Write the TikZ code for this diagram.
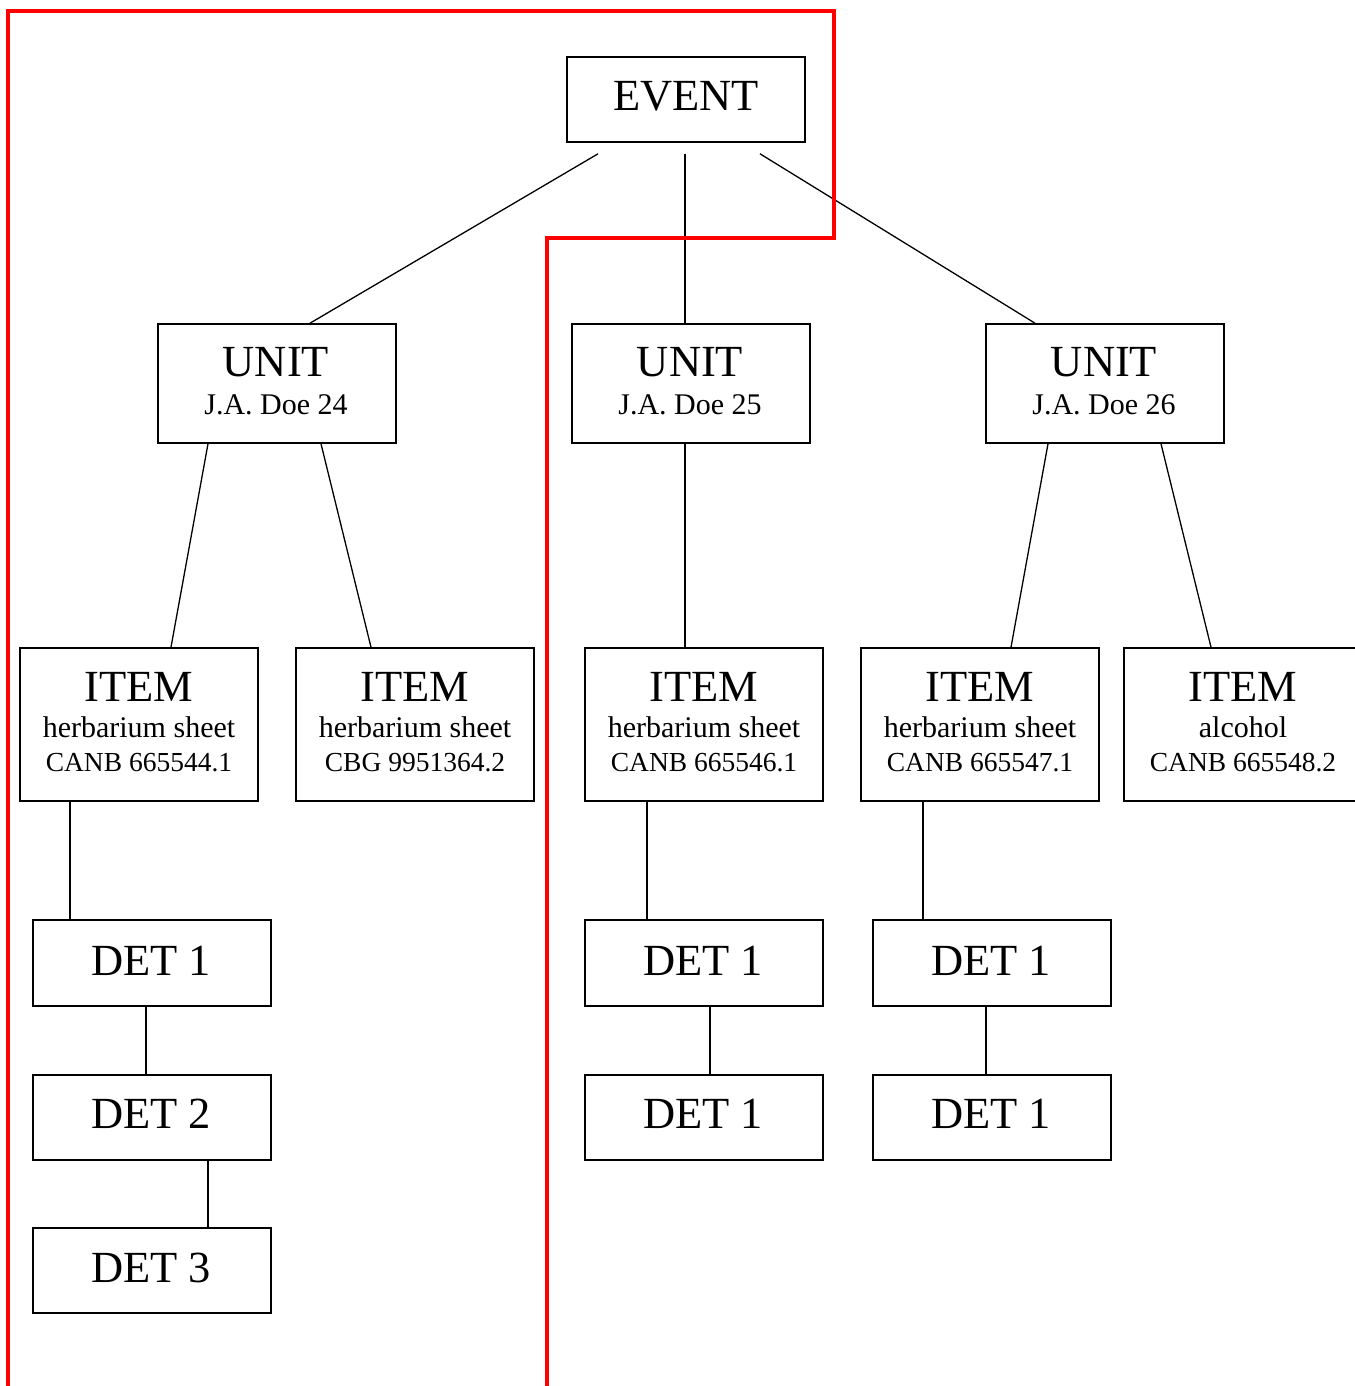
\documentclass[tikz,border=0pt]{standalone}
\usepackage{fontspec}
\setmainfont{Liberation Serif}
\begin{document}
\begin{tikzpicture}[x=1pt,y=-1pt,
  box/.style={draw,line width=1.6pt,inner sep=0pt,minimum width=238pt},
  conn/.style={line width=1.3pt},
  redline/.style={draw=red,line width=4pt,line join=miter},
  big/.style={font=\fontsize{44.5}{44.5}\selectfont,anchor=base,inner sep=0pt},
  small/.style={font=\fontsize{30}{30}\selectfont,anchor=base,inner sep=0pt},
  code/.style={font=\fontsize{27.5}{27.5}\selectfont,anchor=base,inner sep=0pt}]
\useasboundingbox (0,0) rectangle (1354,1386);
% boxes
\node[box,minimum height=85pt] (event) at (686,99.5) {};
\node[box,minimum height=119pt] (u24) at (277,383.5) {};
\node[box,minimum height=119pt] (u25) at (691,383.5) {};
\node[box,minimum height=119pt] (u26) at (1105,383.5) {};
\node[box,minimum height=153pt] (i1) at (139,724.5) {};
\node[box,minimum height=153pt] (i2) at (415,724.5) {};
\node[box,minimum height=153pt] (i3) at (704,724.5) {};
\node[box,minimum height=153pt] (i4) at (980,724.5) {};
\node[box,minimum height=153pt] (i5) at (1243,724.5) {};
\node[box,minimum height=86pt] (d11) at (152,963) {};
\node[box,minimum height=85pt] (d12) at (152,1117.5) {};
\node[box,minimum height=85pt] (d13) at (152,1270.5) {};
\node[box,minimum height=86pt] (d31) at (704,963) {};
\node[box,minimum height=85pt] (d32) at (704,1117.5) {};
\node[box,minimum height=86pt] (d41) at (992,963) {};
\node[box,minimum height=85pt] (d42) at (992,1117.5) {};
% texts
\node[big] (event-t) at (686,111) {EVENT};
\node[big] (u24-t) at (276,376) {UNIT};
\node[small] (u24-s) at (276,414) {J.A. Doe 24};
\node[big] (u25-t) at (690,376) {UNIT};
\node[small] (u25-s) at (690,414) {J.A. Doe 25};
\node[big] (u26-t) at (1104,376) {UNIT};
\node[small] (u26-s) at (1104,414) {J.A. Doe 26};
\node[big] (i1-t) at (139,701) {ITEM};
\node[small] (i1-a) at (139,737) {herbarium sheet};
\node[code] (i1-b) at (139,771) {CANB 665544.1};
\node[big] (i2-t) at (415,701) {ITEM};
\node[small] (i2-a) at (415,737) {herbarium sheet};
\node[code] (i2-b) at (415,771) {CBG 9951364.2};
\node[big] (i3-t) at (704,701) {ITEM};
\node[small] (i3-a) at (704,737) {herbarium sheet};
\node[code] (i3-b) at (704,771) {CANB 665546.1};
\node[big] (i4-t) at (980,701) {ITEM};
\node[small] (i4-a) at (980,737) {herbarium sheet};
\node[code] (i4-b) at (980,771) {CANB 665547.1};
\node[big] (i5-t) at (1243,701) {ITEM};
\node[small] (i5-a) at (1243,737) {alcohol};
\node[code] (i5-b) at (1243,771) {CANB 665548.2};
\node[big] (d11-t) at (151,975) {DET 1};
\node[big] (d12-t) at (151,1128) {DET 2};
\node[big] (d13-t) at (151,1282) {DET 3};
\node[big] (d31-t) at (703,975) {DET 1};
\node[big] (d32-t) at (703,1128) {DET 1};
\node[big] (d41-t) at (991,975) {DET 1};
\node[big] (d42-t) at (991,1128) {DET 1};
% connectors
\draw[conn] ([xshift=-88pt,yshift=-11pt]event.south) -- ([xshift=33pt]u24.north);
\draw[conn] ([xshift=-1pt,yshift=-11pt]event.south) -- ([xshift=-6pt]u25.north);
\draw[conn] ([xshift=74pt,yshift=-11pt]event.south) -- ([xshift=-70pt]u26.north);
\draw[conn] ([xshift=-69pt]u24.south) -- ([xshift=32pt]i1.north);
\draw[conn] ([xshift=44pt]u24.south) -- ([xshift=-44pt]i2.north);
\draw[conn] ([xshift=-6pt]u25.south) -- ([xshift=-19pt]i3.north);
\draw[conn] ([xshift=-57pt]u26.south) -- ([xshift=31pt]i4.north);
\draw[conn] ([xshift=56pt]u26.south) -- ([xshift=-32pt]i5.north);
\draw[conn] ([xshift=-69pt]i1.south) -- ([xshift=-82pt]d11.north);
\draw[conn] ([xshift=-6pt]d11.south) -- ([xshift=-6pt]d12.north);
\draw[conn] ([xshift=56pt]d12.south) -- ([xshift=56pt]d13.north);
\draw[conn] ([xshift=-57pt]i3.south) -- ([xshift=-57pt]d31.north);
\draw[conn] ([xshift=6pt]d31.south) -- ([xshift=6pt]d32.north);
\draw[conn] ([xshift=-57pt]i4.south) -- ([xshift=-69pt]d41.north);
\draw[conn] ([xshift=-6pt]d41.south) -- ([xshift=-6pt]d42.north);
% red outline
\draw[redline] (8,1392) -- (8,11) -- (834,11) -- (834,238) -- (547,238) -- (547,1392);
\end{tikzpicture}
\end{document}
